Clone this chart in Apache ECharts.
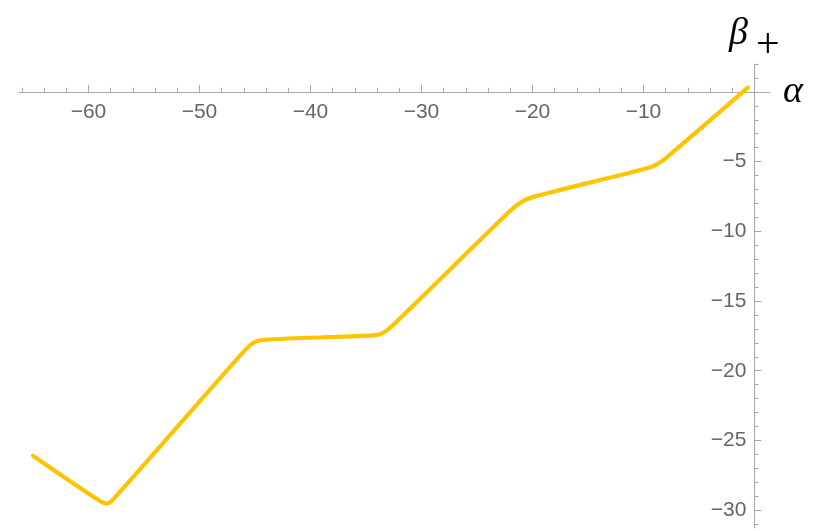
<!DOCTYPE html>
<html>
<head>
<meta charset="utf-8">
<script src="https://cdn.jsdelivr.net/npm/echarts@6/dist/echarts.min.js"></script>
<style>
html,body{margin:0;padding:0;background:#fff;}
#chart{width:828px;height:531px;}
</style>
</head>
<body>
<div id="chart"></div>
<script>
// Data
const alpha = [-65.0, -58.9, -58.3, -57.7, -45.9, -45.1, -44.3, -34.3, -33.5, -32.7, -22.0, -21.0, -20.0, -9.6, -8.8, -8.0, -0.6];
const betaPlus = [-26.1, -29.38, -29.52, -29.16, -18.52, -17.98, -17.78, -17.47, -17.30, -16.83, -8.53, -7.90, -7.55, -5.46, -5.20, -4.76, 0.3];
const xMajorTicks = [-60, -50, -40, -30, -20, -10];
const xMinorTicks = [-66, -64, -62, -58, -56, -54, -52, -48, -46, -44, -42, -38, -36, -34, -32, -28, -26, -24, -22, -18, -16, -14, -12, -8, -6, -4, -2];
const yMajorTicks = [-5, -10, -15, -20, -25, -30];
const yMinorTicks = [2, 1, -1, -2, -3, -4, -6, -7, -8, -9, -11, -12, -13, -14, -16, -17, -18, -19, -21, -22, -23, -24, -26, -27, -28, -29, -31];

const X_MIN = -66.26, X_MAX = 1.40, Y_MIN = -31.28, Y_MAX = 2.0;
const GRID = {left: 19, right: 58, top: 64, bottom: 3};
const W = 828, H = 531;
const plotW = W - GRID.left - GRID.right, plotH = H - GRID.top - GRID.bottom;
// offsets that place the axes through the origin
const xAxisOffset = -(plotH * (Y_MAX - 0) / (Y_MAX - Y_MIN));
const yAxisOffset = -(plotW * (X_MAX - 0) / (X_MAX - X_MIN));

const axisColor = '#a8a8a8';
const labelColor = '#666666';
const fmt = v => String(v).replace('-', '\u2212');
const labelFont = {color: labelColor, fontSize: 21, fontFamily: 'Liberation Sans, Arial, sans-serif'};

const chart = echarts.init(document.getElementById('chart'), null, {renderer: 'canvas'});
chart.setOption({
  animation: false,
  grid: Object.assign({containLabel: false, outerBoundsMode: 'none'}, GRID),
  xAxis: [{
    type: 'value', min: X_MIN, max: X_MAX, position: 'top', offset: xAxisOffset,
    axisLine: {show: true, onZero: false, lineStyle: {color: axisColor, width: 1}},
    axisTick: {show: true, inside: false, length: 7, customValues: xMajorTicks, lineStyle: {color: axisColor}},
    axisLabel: Object.assign({show: true, inside: true, customValues: xMajorTicks, formatter: fmt, margin: 10}, labelFont),
    splitLine: {show: false}
  }, {
    type: 'value', min: X_MIN, max: X_MAX, position: 'top', offset: xAxisOffset,
    axisLine: {show: false, onZero: false},
    axisTick: {show: true, inside: false, length: 4, customValues: xMinorTicks, lineStyle: {color: axisColor}},
    axisLabel: {show: false},
    splitLine: {show: false}
  }],
  yAxis: [{
    type: 'value', min: Y_MIN, max: Y_MAX, position: 'right', offset: yAxisOffset,
    axisLine: {show: true, onZero: false, lineStyle: {color: axisColor, width: 1}},
    axisTick: {show: true, inside: false, length: 7, customValues: yMajorTicks, lineStyle: {color: axisColor}},
    axisLabel: Object.assign({show: true, inside: true, customValues: yMajorTicks, formatter: fmt, margin: 8}, labelFont),
    splitLine: {show: false}
  }, {
    type: 'value', min: Y_MIN, max: Y_MAX, position: 'right', offset: yAxisOffset,
    axisLine: {show: false, onZero: false},
    axisTick: {show: true, inside: false, length: 4, customValues: yMinorTicks, lineStyle: {color: axisColor}},
    axisLabel: {show: false},
    splitLine: {show: false}
  }],
  series: [{
    type: 'line',
    xAxisIndex: 0, yAxisIndex: 0,
    data: alpha.map((a, i) => [a, betaPlus[i]]),
    showSymbol: false,
    smooth: 0.35,
    lineStyle: {color: '#ffc400', width: 4.2, cap: 'round', join: 'round'},
    z: 3
  }],
  graphic: [
    {type: 'text', left: 783, top: 73, style: {text: '\u03b1', font: 'italic 38px "Liberation Serif", "DejaVu Serif", serif', fill: '#000'}},
    {type: 'text', left: 729, top: 15, style: {text: '\u03b2', font: 'italic 38px "Liberation Serif", "DejaVu Serif", serif', fill: '#000'}},
    {type: 'text', left: 756, top: 25, style: {text: '+', font: '42px "Liberation Serif", "DejaVu Serif", serif', fill: '#000'}}
  ]
});
</script>
</body>
</html>
